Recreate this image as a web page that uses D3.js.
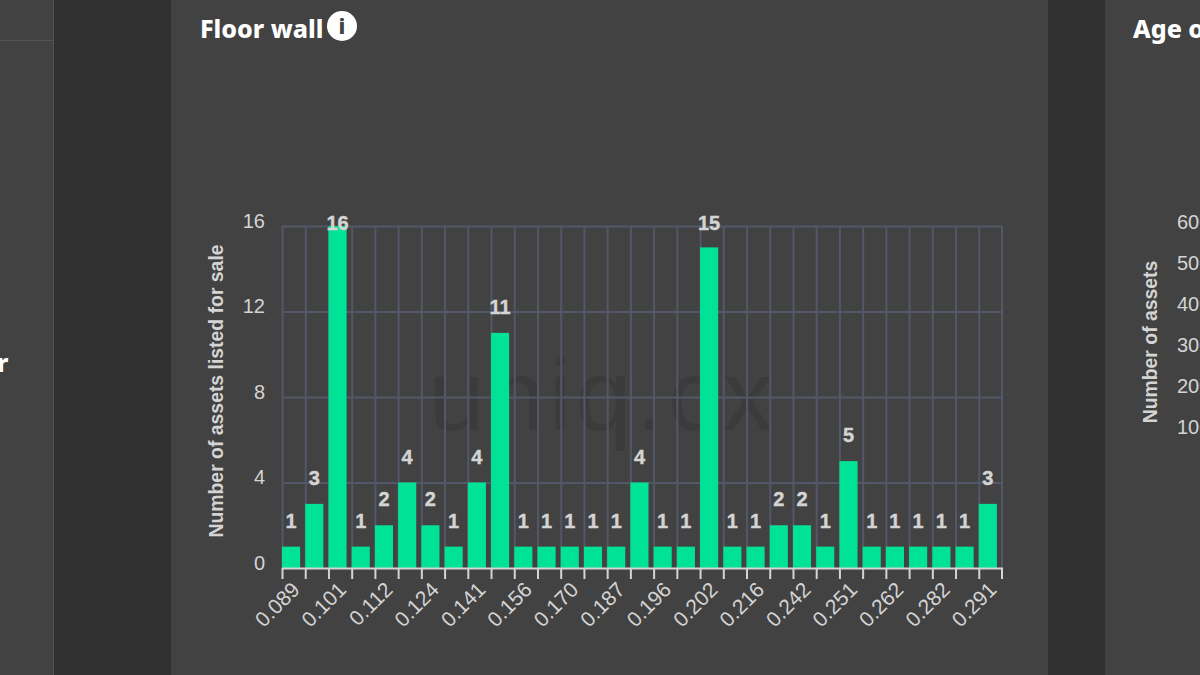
<!DOCTYPE html>
<html>
<head>
<meta charset="utf-8">
<script src="https://cdnjs.cloudflare.com/ajax/libs/d3/7.8.5/d3.min.js"></script>
<style>
    html, body { margin: 0; padding: 0; background: #313131; overflow: hidden; }
    svg { display: block; }
    .title { font-family: "Noto Sans", sans-serif; font-weight: 800; font-size: 25px; fill: #fff; }
    .chart-text { font-family: "Liberation Sans", sans-serif; fill: #d4d4d4; }
</style>
</head>
<body>
<svg id="chart" width="1200" height="675"></svg>
<script>
const counts = [1, 3, 16, 1, 2, 4, 2, 1, 4, 11, 1, 1, 1, 1, 1, 4, 1, 1, 15, 1, 1, 2, 2, 1, 5, 1, 1, 1, 1, 1, 3];
const priceLabels = ['0.089', '0.101', '0.112', '0.124', '0.141', '0.156', '0.170', '0.187', '0.196', '0.202', '0.216', '0.242', '0.251', '0.262', '0.282', '0.291'];
const yTicks = [0, 4, 8, 12, 16];
const nextChartTicks = [600, 500, 400, 300, 200, 100];

const svg = d3.select('#chart');

const plot = { left: 282, right: 1002, top: 226, bottom: 568 };
const gridColor = '#535868';
const axisColor = '#d4d4d4';

const x = d3.scaleBand()
    .domain(d3.range(counts.length))
    .range([plot.left, plot.right]);

const y = d3.scaleLinear()
    .domain([0, 16])
    .range([plot.bottom, plot.top]);

const drawPanels = function () {
    svg.append('rect').attr('width', 1200).attr('height', 675).attr('fill', '#313131');
    svg.append('rect').attr('width', 53).attr('height', 675).attr('fill', '#424242');
    svg.append('rect').attr('x', 53).attr('width', 1).attr('height', 675).attr('fill', '#555555');
    svg.append('rect').attr('y', 40).attr('width', 53).attr('height', 1).attr('fill', '#555555');
    svg.append('rect').attr('x', 171).attr('width', 877).attr('height', 675).attr('fill', '#424242');
    svg.append('rect').attr('x', 1105).attr('width', 95).attr('height', 675).attr('fill', '#424242');
}

const drawTitles = function () {
    svg.append('text').attr('class', 'title').attr('x', 200).attr('y', 38).text('Floor wall');
    svg.append('text').attr('class', 'title').attr('x', 1133).attr('y', 38).text('Age of');
    svg.append('text').attr('class', 'title').attr('x', -3).attr('y', 372).text('r');

    svg.append('circle').attr('cx', 342).attr('cy', 26).attr('r', 15).attr('fill', '#fff');
    svg.append('text')
        .attr('x', 342)
        .attr('y', 34)
        .attr('text-anchor', 'middle')
        .attr('font-family', '"Noto Sans", sans-serif')
        .attr('font-weight', 800)
        .attr('font-size', 22)
        .attr('fill', '#424242')
        .text('i');
}

const drawWatermark = function () {
    svg.append('text')
        .attr('x', 603)
        .attr('y', 430)
        .attr('text-anchor', 'middle')
        .attr('font-family', '"Liberation Sans", sans-serif')
        .attr('font-size', 100)
        .attr('letter-spacing', 4.5)
        .attr('fill', '#3b3b3c')
        .text('uniq.cx');
}

const drawGrid = function () {
    const vertical = svg.append('g')
        .attr('transform', 'translate(0,' + plot.top + ')')
        .call(d3.axisBottom(x)
            .tickValues(d3.range(counts.length))
            .tickSize(plot.bottom - plot.top)
            .tickFormat(''));
    vertical.selectAll('.tick').attr('transform', function (d) {
        return 'translate(' + (x(d) + 0.5) + ',0)';
    });
    vertical.select('.domain').remove();
    vertical.selectAll('line').attr('stroke', gridColor).attr('stroke-width', 2);

    svg.append('line')
        .attr('x1', plot.right).attr('x2', plot.right)
        .attr('y1', plot.top).attr('y2', plot.bottom)
        .attr('stroke', gridColor).attr('stroke-width', 2);

    const horizontal = svg.append('g')
        .attr('transform', 'translate(' + plot.left + ',0)')
        .call(d3.axisRight(y)
            .tickValues(yTicks.slice(1))
            .tickSize(plot.right - plot.left)
            .tickFormat(''));
    horizontal.select('.domain').remove();
    horizontal.selectAll('line').attr('stroke', gridColor).attr('stroke-width', 2);
}

const drawBars = function () {
    svg.append('g').selectAll('rect')
        .data(counts)
        .join('rect')
        .attr('x', function (d, i) { return x(i); })
        .attr('y', function (d) { return y(d); })
        .attr('width', x.bandwidth() * 0.78)
        .attr('height', function (d) { return y(0) - y(d); })
        .attr('fill', '#00e396');
}

const drawAxes = function () {
    const yAxis = svg.append('g')
        .attr('transform', 'translate(' + plot.left + ',0)')
        .call(d3.axisLeft(y).tickValues(yTicks).tickSize(0).tickPadding(17));
    yAxis.select('.domain').remove();
    yAxis.selectAll('text')
        .attr('class', 'chart-text')
        .attr('font-size', 20)
        .attr('dy', '0.05em');

    svg.append('line')
        .attr('x1', plot.left).attr('x2', plot.right + 1)
        .attr('y1', plot.bottom + 0.5).attr('y2', plot.bottom + 0.5)
        .attr('stroke', axisColor).attr('stroke-width', 2);

    const ticks = svg.append('g')
        .attr('transform', 'translate(0,' + plot.bottom + ')')
        .call(d3.axisBottom(x)
            .tickValues(d3.range(counts.length))
            .tickSize(11)
            .tickFormat(''));
    ticks.select('.domain').remove();
    ticks.selectAll('.tick').attr('transform', function (d) {
        return 'translate(' + (x(d) + 0.5) + ',0)';
    });
    ticks.selectAll('line').attr('stroke', axisColor).attr('stroke-width', 2);

    svg.append('line')
        .attr('x1', plot.right).attr('x2', plot.right)
        .attr('y1', plot.bottom).attr('y2', plot.bottom + 11)
        .attr('stroke', axisColor).attr('stroke-width', 2);

    svg.append('g').selectAll('text')
        .data(priceLabels)
        .join('text')
        .attr('class', 'chart-text')
        .attr('font-size', 21)
        .attr('text-anchor', 'end')
        .attr('transform', function (d, i) {
            return 'translate(' + (x(i * 2) + 19) + ',' + (plot.bottom + 23) + ') rotate(-45)';
        })
        .text(function (d) { return d; });

    svg.append('text')
        .attr('class', 'chart-text')
        .attr('transform', 'translate(223,391) rotate(-90)')
        .attr('text-anchor', 'middle')
        .attr('font-size', 19.4)
        .attr('font-weight', 700)
        .text('Number of assets listed for sale');
}

const drawBarLabels = function () {
    svg.append('g').selectAll('text')
        .data(counts)
        .join('text')
        .attr('class', 'chart-text')
        .attr('font-size', 20)
        .attr('font-weight', 700)
        .attr('stroke', '#d4d4d4')
        .attr('stroke-width', 0.4)
        .attr('text-anchor', 'middle')
        .attr('x', function (d, i) { return x(i) + x.bandwidth() * 0.39; })
        .attr('y', function (d) { return Math.max(y(d) - 25, plot.top - 2) + 6; })
        .text(function (d) { return d; });
}

const drawNextChart = function () {
    svg.append('g').selectAll('text')
        .data(nextChartTicks)
        .join('text')
        .attr('class', 'chart-text')
        .attr('font-size', 20)
        .attr('x', 1177)
        .attr('y', function (d, i) { return 229 + i * 41; })
        .text(function (d) { return d; });

    svg.append('text')
        .attr('class', 'chart-text')
        .attr('transform', 'translate(1157,342) rotate(-90)')
        .attr('text-anchor', 'middle')
        .attr('font-size', 19.4)
        .attr('font-weight', 700)
        .text('Number of assets');
}

drawPanels();
drawTitles();
drawWatermark();
drawGrid();
drawBars();
drawAxes();
drawBarLabels();
drawNextChart();
</script>
</body>
</html>
